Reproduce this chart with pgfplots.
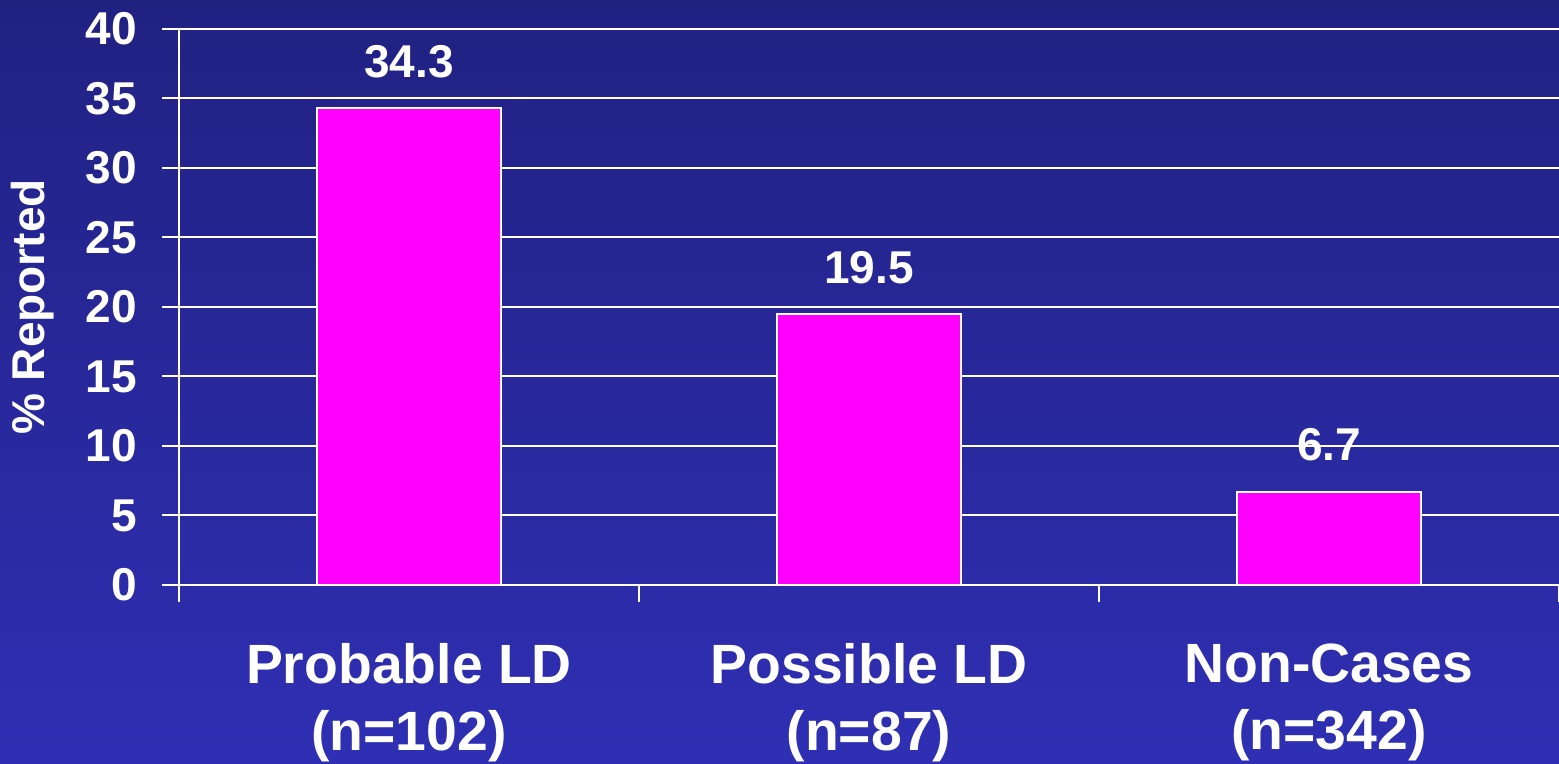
\documentclass[border=0pt]{standalone}
\usepackage{pgfplots}
\pgfplotsset{compat=1.18}
\usepackage{fontspec}
\setmainfont{Liberation Sans}
\definecolor{bgtop}{RGB}{33,33,130}
\definecolor{bgbot}{RGB}{47,47,180}
\definecolor{barpink}{RGB}{255,0,255}
\begin{document}
\begin{tikzpicture}
% page = 1559 x 764 px at 0.3pt per px, axis box lower left at (0,0)
\shade[top color=bgtop, bottom color=bgbot] (-53.7pt,-53.7pt) rectangle (414pt,175.5pt);
\path[use as bounding box] (-53.7pt,-53.7pt) rectangle (414pt,175.5pt);
\begin{axis}[
    at={(0,0)}, anchor=south west,
    scale only axis, width=414pt, height=166.8pt,
    xmin=0, xmax=3, ymin=0, ymax=40,
    axis x line*=bottom, axis y line*=left,
    axis line style={white, line width=0.6pt, -},
    ytick={0,5,...,40},
    ymajorgrids, grid style={white, line width=0.6pt},
    tick align=outside, major tick length=5.1pt,
    tick style={white, line width=0.6pt},
    xtick={0,1,2,3}, xticklabels={},
    extra x ticks={0.5,1.5,2.5},
    extra x tick labels={{Probable LD\\(n=102)},{Possible LD\\(n=87)},{Non-Cases\\(n=342)}},
    extra x tick style={major tick length=0pt,
        xticklabel style={align=center, yshift=-14pt,
            font=\fontsize{16.6}{20.1}\selectfont\bfseries}},
    /pgf/number format/assume math mode=true,
    yticklabel style={white, font=\fontsize{13.8}{16}\selectfont\bfseries, xshift=-4pt},
    xticklabel style={white},
    ylabel={\% Reported},
    ylabel style={white, font=\fontsize{13.8}{16}\selectfont\bfseries,
        at={(axis description cs:-0.106,0.5)}, anchor=center},
    ybar, bar width=55.2pt,
    nodes near coords,
    every node near coord/.append style={white, font=\fontsize{13.8}{16}\selectfont\bfseries, yshift=5.5pt},
    clip=false,
]
\addplot[fill=barpink, draw=white, line width=0.6pt]
    coordinates {(0.5,34.3) (1.5,19.5) (2.5,6.7)};
\end{axis}
\end{tikzpicture}
\end{document}
